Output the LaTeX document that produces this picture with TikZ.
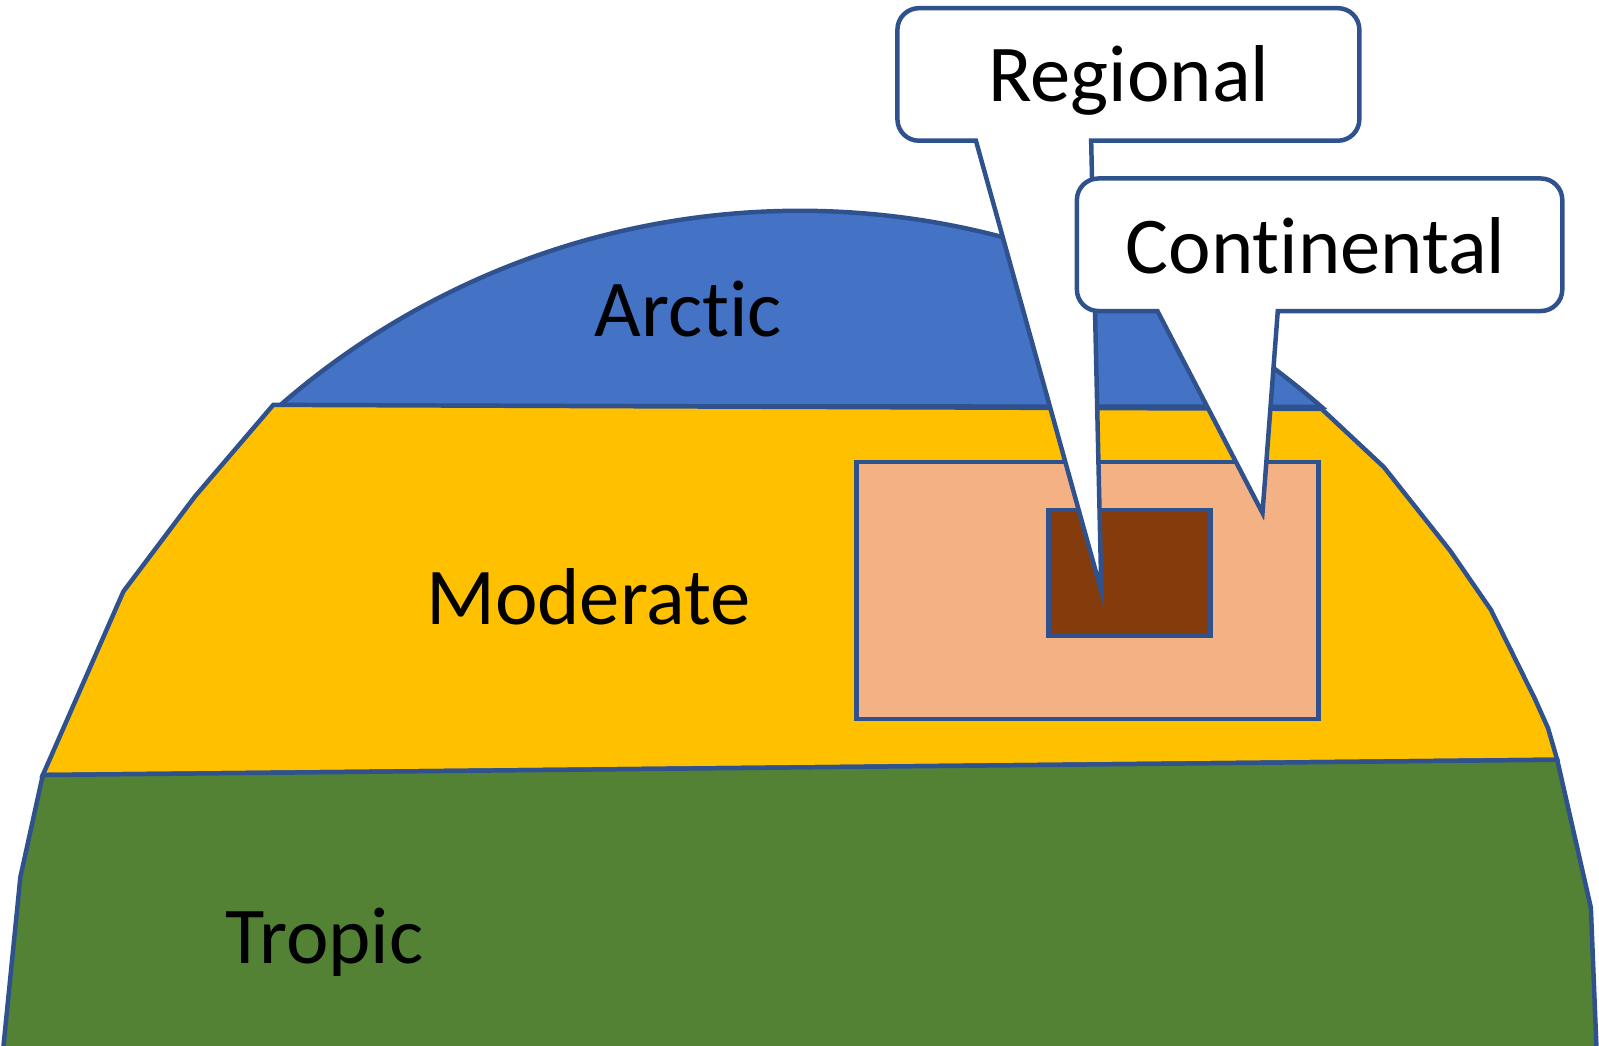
\documentclass[tikz,border=0pt]{standalone}
\usepackage{fontspec}
\setmainfont[Ligatures={NoCommon,NoRequired}]{Carlito}
\usetikzlibrary{positioning}
\definecolor{outline}{RGB}{47,82,143}
\definecolor{arcticfill}{RGB}{68,114,196}
\definecolor{moderatefill}{RGB}{255,192,0}
\definecolor{tropicfill}{RGB}{84,130,53}
\definecolor{continentfill}{RGB}{244,177,131}
\definecolor{regionfill}{RGB}{132,60,12}
\tikzset{
    line join=round,
    zone/.style={
        draw=outline,
        line width=2.5pt
    },
    areabox/.style={
        draw=outline,
        line width=2.5pt,
        line join=miter
    },
    callout/.style={
        draw=outline,
        line width=2.5pt,
        fill=white
    },
    zonelabel/.style={
        font=\fontsize{45}{54}\selectfont,
        text=black,
        anchor=base,
        inner sep=0pt
    }
}

\begin{document}
\begin{tikzpicture}[x=0.02cm, y=-0.02cm]

\useasboundingbox (0,0) rectangle (1568,1025);
\clip (0,0) rectangle (1568,1025);

% Zones of the globe
\draw[zone, fill=arcticfill] (274,398) arc[start angle=-131.1, end angle=-48.8, radius=776.4] -- cycle;
\draw[zone, fill=moderatefill] (268,397) -- (1296,401) -- (1357,458) -- (1422,540) -- (1462,598)
    -- (1505,685) -- (1518,714) -- (1527,745) -- (42,760) -- (121,580) -- (191,487) -- cycle;
\draw[zone, fill=tropicfill] (42,760) -- (1527,745) -- (1560,890) -- (1566,1040)
    -- (2,1040) -- (20,860) -- cycle;

\node[zonelabel] (arctic) at (675,330) {Arctic};
\node[zonelabel] (moderate) at (577,612) {Moderate};
\node[zonelabel] (tropic) at (318,945) {Tropic};

% Continental and regional areas
\draw[areabox, fill=continentfill] (840,453) rectangle (1293,705);
\draw[areabox, fill=regionfill] (1028,500) rectangle (1187,623);

% Callouts
\draw[callout] (1070,138) [rounded corners=12pt] -- (1333,138) -- (1333,8) -- (880,8) -- (880,138)
    [sharp corners] -- (957,138) -- (1080,580) -- cycle;
\node[zonelabel] (regional) at (1107,100) {Regional};

\draw[callout] (1253,305) [rounded corners=12pt] -- (1532,305) -- (1532,175) -- (1056,175) -- (1056,305)
    [sharp corners] -- (1135,305) -- (1238,503) -- cycle;
\node[zonelabel] (continental) at (1290,268) {Continental};

\end{tikzpicture}
\end{document}
